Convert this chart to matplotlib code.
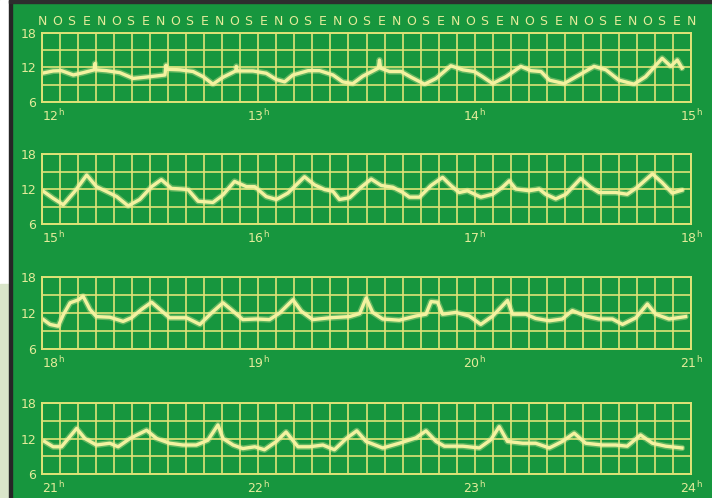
import matplotlib.pyplot as plt
from matplotlib.patches import Rectangle

# minutes after the start hour of each strip, and the reading (6..18)
p1_t = [0, 3.1, 5.4, 8.7, 11.4, 14.5, 14.7, 14.9, 17.9, 21.6, 25.3, 29.9, 34.1, 34.4, 34.6,
        38.2, 41.9, 44.7, 47.4, 50.2, 53.7, 53.9, 54.1, 58.5, 62.2, 65.0, 67.3, 69.6, 73.8,
        77.0, 80.7, 83.4, 86.2, 89.0, 93.3, 93.6, 93.9, 96.4, 99.6, 102.4, 106.1, 109.3,
        113.4, 116.7, 119.9, 122.2, 125.0, 128.7, 132.8, 135.6, 138.4, 140.7, 144.8, 149.0,
        153.1, 156.4, 160.0, 164.2, 167.4, 172.0, 174.4, 176.2, 177.5]
p1_v = [11.0, 11.4, 11.45, 10.7, 11.1, 11.6, 12.7, 11.6, 11.45, 11.1, 10.1, 10.4, 10.7, 12.4, 11.7,
        11.6, 11.3, 10.4, 9.1, 10.3, 11.4, 12.2, 11.4, 11.4, 11.0, 9.9, 9.5, 10.7, 11.45,
        11.45, 10.7, 9.5, 9.2, 10.5, 11.9, 13.3, 11.9, 11.3, 11.3, 10.3, 9.1, 10.1,
        12.3, 11.6, 11.3, 10.4, 9.2, 10.4, 12.2, 11.45, 11.3, 9.8, 9.2, 10.7,
        12.2, 11.6, 9.8, 9.1, 10.4, 13.6, 12.2, 13.3, 11.9]

p2_t = [0.4, 3.1, 5.9, 9.1, 12.4, 15.1, 18.8, 20.7, 23.9, 27.1, 30.4, 33.1, 35.9, 38.7, 40.5,
        43.3, 47.4, 50.2, 53.4, 56.7, 59.0, 62.2, 65.0, 68.2, 72.8, 75.6, 78.4, 80.7, 82.5,
        85.3, 88.1, 91.3, 94.1, 97.3, 100.1, 101.9, 104.7, 107.9, 111.1, 113.4, 115.7, 118.0,
        121.7, 125.0, 127.7, 129.6, 131.4, 135.1, 137.9, 139.7, 142.5, 145.3, 149.4, 152.2,
        154.5, 159.1, 162.3, 165.1, 169.3, 172.0, 174.8, 177.5]
p2_v = [11.6, 10.4, 9.3, 11.6, 14.4, 12.4, 11.3, 10.7, 9.1, 10.2, 12.4, 13.6, 12.1, 12.0, 11.9,
        9.9, 9.7, 11.0, 13.3, 12.4, 12.4, 10.7, 10.2, 11.3, 14.1, 12.7, 11.9, 11.6, 10.2,
        10.5, 12.1, 13.7, 12.6, 12.3, 11.4, 10.6, 10.6, 12.6, 14.0, 12.6, 11.4, 11.7,
        10.6, 11.1, 12.3, 13.4, 12.0, 11.7, 12.0, 11.1, 10.3, 11.1, 13.8, 12.3,
        11.4, 11.4, 11.1, 12.3, 14.6, 13.1, 11.3, 11.8]

p3_t = [0.4, 2.2, 4.5, 5.9, 7.8, 10.1, 11.4, 13.3, 15.1, 18.8, 22.5, 24.8, 27.6, 30.4, 32.7,
        35.4, 40.1, 43.8, 47.0, 50.2, 53.0, 55.7, 59.5, 63.1, 65.9, 69.6, 71.9, 75.1, 79.7,
        85.3, 88.1, 89.9, 91.7, 94.5, 99.1, 103.7, 106.5, 107.9, 109.7, 111.1, 114.8, 118.5,
        121.7, 125.0, 127.7, 129.1, 130.5, 134.2, 136.9, 140.7, 144.3, 147.1, 150.8, 154.5,
        158.2, 161.0, 164.7, 167.9, 170.2, 173.9, 178.5]
p3_v = [10.9, 10.1, 9.8, 11.7, 13.7, 14.2, 14.8, 12.6, 11.4, 11.3, 10.6, 11.2, 12.6, 13.8, 12.6,
        11.2, 11.2, 10.1, 12.0, 13.7, 12.3, 10.9, 11.0, 10.9, 12.0, 14.2, 12.3, 10.9, 11.2,
        11.4, 11.9, 14.5, 12.1, 11.0, 10.8, 11.5, 11.8, 13.9, 13.8, 11.8, 12.1, 11.5,
        10.1, 11.5, 13.2, 14.1, 11.8, 11.8, 11.1, 10.7, 11.0, 12.4, 11.5, 11.0,
        11.0, 10.1, 11.2, 13.5, 11.8, 11.0, 11.4]

p4_t = [0.7, 3.1, 5.4, 7.3, 9.6, 11.9, 15.1, 18.8, 21.1, 24.4, 29.0, 31.8, 35.4, 39.1, 42.8,
        46.0, 48.8, 50.2, 53.0, 55.7, 59.0, 61.7, 65.0, 67.7, 71.0, 74.2, 77.9, 81.1, 84.4,
        87.3, 89.9, 94.5, 99.1, 103.7, 106.5, 109.3, 111.6, 116.7, 121.3, 124.5, 126.8, 129.1,
        133.3, 136.9, 140.7, 144.3, 147.6, 150.8, 155.4, 159.1, 162.3, 166.0, 169.3, 173.0, 177.5]
p4_v = [11.5, 10.6, 10.6, 12.0, 13.7, 12.0, 10.9, 11.2, 10.6, 12.0, 13.4, 12.0, 11.2, 10.9, 10.9,
        11.7, 14.3, 12.0, 10.9, 10.3, 10.6, 10.1, 11.5, 13.1, 10.6, 10.6, 10.9, 10.1, 12.0,
        13.3, 11.5, 10.4, 11.2, 12.1, 13.3, 11.5, 10.7, 10.7, 10.4, 11.8, 14.0, 11.5,
        11.2, 11.2, 10.4, 11.5, 12.9, 11.2, 10.9, 10.9, 10.7, 12.6, 11.2, 10.7, 10.4]

start_hours = [12, 15, 18, 21]
y_ticks = [6, 12, 18]
directions = list("NOSE" * 11 + "N")

series = [(p1_t, p1_v), (p2_t, p2_v), (p3_t, p3_v), (p4_t, p4_v)]

GREEN = "#17963e"
GRID = "#dfe377"
LINE = "#f3f2a0"
TEXT = "#e4ec9a"

W, H = 712, 498
fig = plt.figure(figsize=(W / 100, H / 100), dpi=100, facecolor=GREEN)

# page edge on the left and dark frame
fig.add_artist(Rectangle((0, 1 - 284 / H), 9 / W, 284 / H, transform=fig.transFigure,
                         color="white", zorder=0))
fig.add_artist(Rectangle((0, 0), 9 / W, 1 - 284 / H, transform=fig.transFigure,
                         color="#d9e5c9", zorder=0))
fig.add_artist(Rectangle((9 / W, 0), 3 / W, 1, transform=fig.transFigure,
                         color="#262626", zorder=0))
fig.add_artist(Rectangle((9 / W, 1 - 3 / H), 1, 3 / H, transform=fig.transFigure,
                         color="#2e2e2e", zorder=0))

# strip tops/bottoms in pixels
tops = [33, 154, 277, 403]
bottoms = [102, 224, 349, 474]
left, right = 42, 691

for i, (t, v) in enumerate(series):
    ax = fig.add_axes([left / W, 1 - bottoms[i] / H, (right - left) / W,
                       (bottoms[i] - tops[i]) / H])
    ax.set_facecolor("none")
    ax.set_xlim(0, 180)
    ax.set_ylim(6, 18)
    ax.set_xticks(range(0, 181, 5))
    ax.set_xticklabels([])
    ax.set_yticks(y_ticks)
    ax.set_yticks([9, 15], minor=True)
    ax.tick_params(axis="both", which="both", length=0)
    ax.tick_params(axis="y", pad=4, labelsize=9, labelcolor=TEXT)
    ax.grid(True, which="both", color=GRID, lw=1.2)
    for s in ax.spines.values():
        s.set_color(GRID)
        s.set_linewidth(1.4)

    ax.plot(t, v, color=LINE, lw=4.5, alpha=0.35, solid_capstyle="round")
    ax.plot(t, v, color=LINE, lw=2.4, solid_joinstyle="round")

    for k in range(4):
        h = start_hours[i] + k
        ax.annotate(r"%d$^{\mathrm{h}}$" % h, xy=(k * 60, 0),
                    xycoords=("data", "axes fraction"),
                    xytext=(0, -10), textcoords="offset points",
                    ha="left" if k == 0 else "center", va="center",
                    fontsize=9, color=TEXT)

    if i == 0:
        step = 180 / (len(directions) - 1)
        for j, d in enumerate(directions):
            ax.annotate(d, xy=(j * step, 1), xycoords=("data", "axes fraction"),
                        xytext=(0, 8), textcoords="offset points",
                        ha="center", va="center", fontsize=9, color=TEXT)

fig.savefig("out.png", dpi=100, facecolor=GREEN)
